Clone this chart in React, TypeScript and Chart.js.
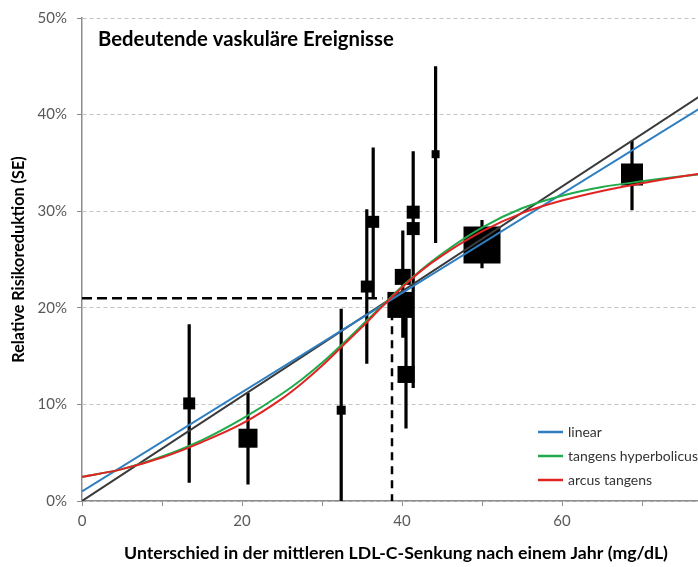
import React, { useEffect, useRef } from "react";
import { Chart, registerables } from "chart.js";

Chart.register(...registerables);

// ---- Data ----
const chartTitle = "Bedeutende vaskuläre Ereignisse";
const xAxisTitle = "Unterschied in der mittleren LDL-C-Senkung nach einem Jahr (mg/dL)";
const yAxisTitle = "Relative Risikoreduktion (SE)";

// studies (x: LDL difference, y: relative risk reduction %)
const studyX = [13.4, 20.75, 32.4, 35.6, 36.4, 39.8, 40.1, 40.5, 41.4, 41.4, 44.2, 50.0, 68.75];
const studyY = [10.1, 6.5, 9.4, 22.2, 28.9, 20.3, 23.2, 13.1, 29.9, 28.2, 35.9, 26.5, 33.8];
const studyLo = [1.9, 1.7, 0, 14.2, 21.1, 19.0, 16.9, 7.5, 23.5, 11.7, 26.7, 24.1, 30.1];
const studyHi = [18.3, 11.2, 19.9, 30.2, 36.6, 21.5, 28.0, 19.0, 36.2, 33.0, 45.0, 29.1, 37.3];
const studyWeight = [12, 19, 9, 12, 12, 26, 16, 17, 13, 13, 8, 37, 22];

// fitted lines
const straightX = [0, 78.5];
const linearY = [1.0, 41.3];
const grayY = [0.0, 42.6];

const curveX = [0, 5, 10, 15, 20, 25, 27.5, 30, 32.5, 35, 37.5, 40, 42.5, 45, 50, 55, 60, 65, 70, 77, 78.5];
const tanhY = [2.5, 3.3, 4.6, 6.3, 8.5, 11.1, 12.6, 14.3, 16.2, 18.2, 20.2, 22.2, 24.0, 25.6, 28.3, 30.3, 31.6, 32.5, 33.1, 33.8, 33.9];
const atanY = [2.5, 3.3, 4.5, 6.1, 8.0, 10.6, 12.2, 14.0, 16.0, 18.0, 20.1, 22.1, 23.9, 25.4, 27.9, 29.8, 31.1, 32.1, 32.9, 33.85, 34.0];

// dashed guide
const guideX = 38.75;
const guideY = 21;

// axes
const xMin = 0;
const xMax = 78.5;
const xTickValues = [0, 10, 20, 30, 40, 50, 60, 70];
const xTickLabels = ["0", "", "20", "", "40", "", "60", ""];
const yTickValues = [0, 10, 20, 30, 40, 50];
const yTickLabels = ["0%", "10%", "20%", "30%", "40%", "50%"];

const legendNames = ["linear", "tangens hyperbolicus", "arcus tangens"];
const legendColors = ["#2E7EC1", "#1FAA4B", "#E02424"];

const FONT = "Lato, 'Open Sans', sans-serif";

export default function App() {
  const ref = useRef<HTMLCanvasElement>(null);

  useEffect(() => {
    if (!ref.current) return;
    const errData: any[] = [];
    studyX.forEach((x, i) => {
      errData.push({ x, y: studyLo[i] }, { x, y: studyHi[i] }, { x, y: null });
    });

    const overlay = {
      id: "overlay",
      afterDraw(chart: any) {
        const { ctx, chartArea } = chart;
        ctx.save();
        ctx.fillStyle = "#000";
        ctx.font = `bold 20.3px ${FONT}`;
        ctx.textBaseline = "alphabetic";
        ctx.textAlign = "left";
        ctx.fillText(chartTitle, chartArea.left + 16, chartArea.top + 28);

        ctx.font = `14px ${FONT}`;
        ctx.textBaseline = "middle";
        const lx = chartArea.left + 456;
        legendNames.forEach((name, i) => {
          const ly = chartArea.bottom - 69 + i * 24;
          ctx.strokeStyle = legendColors[i];
          ctx.lineWidth = 2.5;
          ctx.beginPath();
          ctx.moveTo(lx, ly);
          ctx.lineTo(lx + 25, ly);
          ctx.stroke();
          ctx.fillStyle = "#333";
          ctx.fillText(name, lx + 30, ly);
        });
        ctx.restore();
      },
    };

    const chart = new Chart(ref.current, {
      type: "scatter",
      data: {
        datasets: [
          {
            label: "err",
            data: errData,
            showLine: true,
            spanGaps: false,
            borderColor: "#000",
            borderWidth: 3.2,
            pointRadius: 0,
            order: 10,
          } as any,
          {
            label: "studies",
            data: studyX.map((x, i) => ({ x, y: studyY[i] })),
            pointStyle: "rect",
            pointRadius: studyWeight.map((w) => w / Math.SQRT2),
            backgroundColor: "#000",
            borderWidth: 0,
            order: 9,
          } as any,
          {
            label: "guideH",
            data: [
              { x: xMin, y: guideY },
              { x: guideX - 1.2, y: guideY },
            ],
            showLine: true,
            borderDash: [10, 5],
            borderColor: "#000",
            borderWidth: 2.5,
            pointRadius: 0,
            order: 8,
          } as any,
          {
            label: "guideV",
            data: [
              { x: guideX, y: guideY },
              { x: guideX, y: 0 },
            ],
            showLine: true,
            borderDash: [8, 6],
            borderColor: "#000",
            borderWidth: 2.5,
            pointRadius: 0,
            order: 8,
          } as any,
          {
            label: "gray",
            data: straightX.map((x, i) => ({ x, y: grayY[i] })),
            showLine: true,
            borderColor: "#3a3a3a",
            borderWidth: 2,
            pointRadius: 0,
            order: 4,
          } as any,
          {
            label: legendNames[0],
            data: straightX.map((x, i) => ({ x, y: linearY[i] })),
            showLine: true,
            borderColor: legendColors[0],
            borderWidth: 2,
            pointRadius: 0,
            order: 3,
          } as any,
          {
            label: legendNames[1],
            data: curveX.map((x, i) => ({ x, y: tanhY[i] })),
            showLine: true,
            cubicInterpolationMode: "monotone",
            borderColor: legendColors[1],
            borderWidth: 2,
            pointRadius: 0,
            order: 2,
          } as any,
          {
            label: legendNames[2],
            data: curveX.map((x, i) => ({ x, y: atanY[i] })),
            showLine: true,
            cubicInterpolationMode: "monotone",
            borderColor: legendColors[2],
            borderWidth: 2,
            pointRadius: 0,
            order: 1,
          } as any,
        ],
      },
      options: {
        animation: false,
        responsive: false,
        events: [],
        layout: { autoPadding: false, padding: { top: 18, right: 2, bottom: 0, left: 0 } },
        plugins: {
          legend: { display: false },
          tooltip: { enabled: false },
        },
        scales: {
          x: {
            type: "linear",
            min: xMin,
            max: xMax,
            afterBuildTicks: (scale: any) => {
              scale.ticks = xTickValues.map((v) => ({ value: v }));
            },
            afterFit: (scale: any) => {
              scale.height = 66;
              scale.paddingLeft = 0;
              scale.paddingRight = 0;
            },
            ticks: {
              autoSkip: false,
              maxRotation: 0,
              color: "#595959",
              font: { family: FONT, size: 15 },
              padding: 6,
              callback: (v: any) => {
                const i = xTickValues.indexOf(Number(v));
                return i >= 0 ? xTickLabels[i] : "";
              },
            },
            grid: {
              drawOnChartArea: false,
              drawTicks: true,
              tickLength: 5,
              tickColor: "#8c8c8c",
            },
            border: { color: "#8c8c8c", width: 1.5 },
            title: {
              display: true,
              text: xAxisTitle,
              color: "#000",
              font: { family: FONT, size: 17.7, weight: "bold" },
              padding: { top: 4, bottom: 3 },
            },
          },
          y: {
            type: "linear",
            min: 0,
            max: 50,
            afterBuildTicks: (scale: any) => {
              scale.ticks = yTickValues.map((v) => ({ value: v }));
            },
            afterFit: (scale: any) => {
              scale.width = 82;
              scale.paddingTop = 0;
              scale.paddingBottom = 0;
            },
            ticks: {
              color: "#595959",
              font: { family: FONT, size: 15 },
              padding: 10,
              callback: (v: any) => {
                const i = yTickValues.indexOf(Number(v));
                return i >= 0 ? yTickLabels[i] : "";
              },
            },
            grid: {
              color: "#c4c4c4",
              lineWidth: 1,
              tickLength: 5,
              tickColor: "#8c8c8c",
            },
            border: { color: "#8c8c8c", width: 1.5, dash: [4, 3] },
            title: {
              display: true,
              text: yAxisTitle,
              color: "#000",
              font: { family: FONT, size: 16.2, weight: "bold" },
              padding: { top: 9, bottom: 0 },
            },
          },
        },
      },
      plugins: [overlay],
    });

    return () => chart.destroy();
  }, []);

  return (
    <div
      style={{
        position: "fixed",
        left: 0,
        top: 0,
        width: 698,
        height: 567,
        overflow: "hidden",
        background: "#fff",
      }}
    >
      <canvas ref={ref} width={712} height={567} style={{ width: 712, height: 567, display: "block" }} />
    </div>
  );
}
